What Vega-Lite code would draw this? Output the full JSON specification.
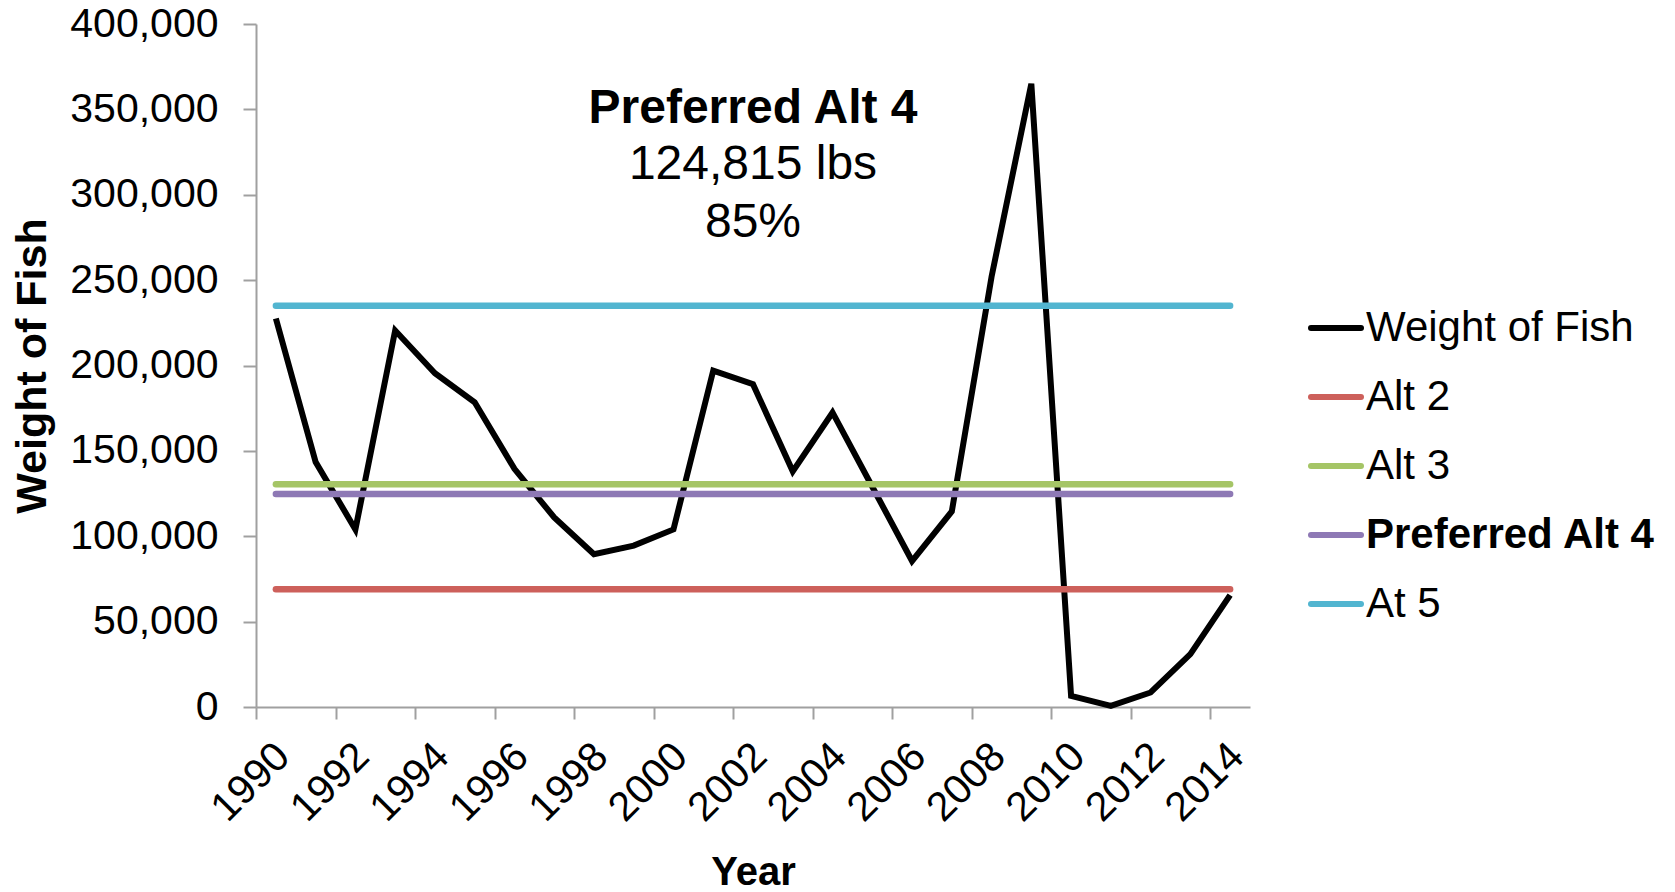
{
  "$schema": "https://vega.github.io/schema/vega-lite/v6.json",
  "width": 994,
  "height": 683,
  "autosize": {"type": "none"},
  "padding": {"left": 256, "top": 24, "right": 425, "bottom": 185},
  "background": "white",
  "config": {"view": {"stroke": null}, "font": "Liberation Sans"},
  "datasets": {
    "series": [
      {"series": "Weight of Fish", "year": 1990, "value": 227500},
      {"series": "Weight of Fish", "year": 1991, "value": 143500},
      {"series": "Weight of Fish", "year": 1992, "value": 104000},
      {"series": "Weight of Fish", "year": 1993, "value": 220500},
      {"series": "Weight of Fish", "year": 1994, "value": 195500},
      {"series": "Weight of Fish", "year": 1995, "value": 178500},
      {"series": "Weight of Fish", "year": 1996, "value": 139500},
      {"series": "Weight of Fish", "year": 1997, "value": 111000},
      {"series": "Weight of Fish", "year": 1998, "value": 89500},
      {"series": "Weight of Fish", "year": 1999, "value": 94500},
      {"series": "Weight of Fish", "year": 2000, "value": 104000},
      {"series": "Weight of Fish", "year": 2001, "value": 197000},
      {"series": "Weight of Fish", "year": 2002, "value": 189000},
      {"series": "Weight of Fish", "year": 2003, "value": 138000},
      {"series": "Weight of Fish", "year": 2004, "value": 172500},
      {"series": "Weight of Fish", "year": 2005, "value": 129000},
      {"series": "Weight of Fish", "year": 2006, "value": 85500},
      {"series": "Weight of Fish", "year": 2007, "value": 114500},
      {"series": "Weight of Fish", "year": 2008, "value": 252000},
      {"series": "Weight of Fish", "year": 2009, "value": 365000},
      {"series": "Weight of Fish", "year": 2010, "value": 6500},
      {"series": "Weight of Fish", "year": 2011, "value": 700},
      {"series": "Weight of Fish", "year": 2012, "value": 8500},
      {"series": "Weight of Fish", "year": 2013, "value": 31000},
      {"series": "Weight of Fish", "year": 2014, "value": 65500}
    ],
    "alts": [
      {"series": "Alt 2", "year": 1990, "value": 69000},
      {"series": "Alt 2", "year": 2014, "value": 69000},
      {"series": "Alt 3", "year": 1990, "value": 130500},
      {"series": "Alt 3", "year": 2014, "value": 130500},
      {"series": "Preferred Alt 4", "year": 1990, "value": 124815},
      {"series": "Preferred Alt 4", "year": 2014, "value": 124815},
      {"series": "At 5", "year": 1990, "value": 235000},
      {"series": "At 5", "year": 2014, "value": 235000}
    ],
    "noteBold": [
      {"year": 2002, "value": 341800, "label": "Preferred Alt 4"}
    ],
    "noteText": [
      {"year": 2002, "value": 309200, "label": "124,815 lbs"},
      {"year": 2002, "value": 275400, "label": "85%"}
    ]
  },
  "layer": [
    {
      "data": {"name": "series"},
      "mark": {"type": "line", "strokeWidth": 6, "strokeJoin": "miter"},
      "encoding": {
        "x": {
          "field": "year",
          "type": "quantitative",
          "scale": {"domain": [1989.5, 2014.5], "nice": false, "zero": false},
          "axis": {
            "values": [1989.5, 1990.5, 1991.5, 1992.5, 1993.5, 1994.5, 1995.5, 1996.5, 1997.5, 1998.5, 1999.5, 2000.5, 2001.5, 2002.5, 2003.5, 2004.5, 2005.5, 2006.5, 2007.5, 2008.5, 2009.5, 2010.5, 2011.5, 2012.5, 2013.5, 2014.5],
            "labelExpr": "(datum.value + 0.5) % 2 === 0 ? '' + (datum.value + 0.5) : ''",
            "labelAngle": -45,
            "labelAlign": "right",
            "labelBaseline": "middle",
            "labelOffset": 27,
            "labelPadding": 31,
            "labelFontSize": 41,
            "labelColor": "black",
            "labelOverlap": false,
            "labelFlush": false,
            "grid": false,
            "tickSize": 12,
            "tickWidth": 2,
            "tickColor": "#A0A0A0",
            "domainColor": "#A0A0A0",
            "domainWidth": 2,
            "title": "Year",
            "titleFontSize": 40,
            "titleFontWeight": "bold",
            "titleColor": "black",
            "titleBaseline": "alphabetic",
            "titleY": 177
          }
        },
        "y": {
          "field": "value",
          "type": "quantitative",
          "scale": {"domain": [0, 400000], "nice": false},
          "axis": {
            "values": [0, 50000, 100000, 150000, 200000, 250000, 300000, 350000, 400000],
            "format": ",d",
            "labelFontSize": 41,
            "labelColor": "black",
            "labelPadding": 25,
            "grid": false,
            "tickSize": 13,
            "tickWidth": 2,
            "tickColor": "#A0A0A0",
            "domainColor": "#A0A0A0",
            "domainWidth": 2,
            "title": "Weight of Fish",
            "titleFontSize": 43,
            "titleFontWeight": "bold",
            "titleColor": "black",
            "titleAngle": -90,
            "titleBaseline": "alphabetic",
            "titleAlign": "center",
            "titleX": -211,
            "titleY": 341.5
          }
        },
        "color": {
          "field": "series",
          "type": "nominal",
          "scale": {
            "domain": ["Weight of Fish", "Alt 2", "Alt 3", "Preferred Alt 4", "At 5"],
            "range": ["#000000", "#CD605B", "#A5C566", "#8E79B5", "#52B5D0"]
          },
          "legend": {
            "title": null,
            "orient": "none",
            "legendX": 1052,
            "legendY": 276,
            "padding": 0,
            "symbolType": "stroke",
            "symbolSize": 2500,
            "symbolStrokeWidth": 6,
            "labelFontSize": 42,
            "labelColor": "black",
            "labelOffset": 2,
            "labelLimit": 0,
            "rowPadding": 20,
            "encode": {
              "labels": {"update": {"fontWeight": {"signal": "datum.value === 'Preferred Alt 4' ? 'bold' : 'normal'"}}},
              "symbols": {"update": {"strokeCap": {"value": "round"}}}
            }
          }
        }
      }
    },
    {
      "data": {"name": "alts"},
      "mark": {"type": "line", "strokeWidth": 6.5, "strokeCap": "round"},
      "encoding": {
        "x": {"field": "year", "type": "quantitative"},
        "y": {"field": "value", "type": "quantitative"},
        "color": {"field": "series", "type": "nominal"}
      }
    },
    {
      "data": {"name": "noteBold"},
      "mark": {"type": "text", "fontSize": 48, "fontWeight": "bold", "align": "center", "baseline": "alphabetic", "color": "black"},
      "encoding": {
        "x": {"field": "year", "type": "quantitative"},
        "y": {"field": "value", "type": "quantitative"},
        "text": {"field": "label"}
      }
    },
    {
      "data": {"name": "noteText"},
      "mark": {"type": "text", "fontSize": 48, "align": "center", "baseline": "alphabetic", "color": "black"},
      "encoding": {
        "x": {"field": "year", "type": "quantitative"},
        "y": {"field": "value", "type": "quantitative"},
        "text": {"field": "label"}
      }
    }
  ]
}
